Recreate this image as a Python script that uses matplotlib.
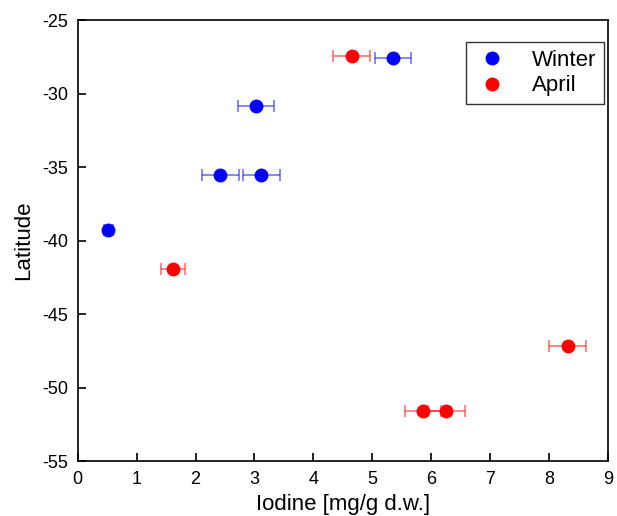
import matplotlib
matplotlib.use("Agg")
import matplotlib.pyplot as plt

plt.rcParams['font.family'] = ['Liberation Sans', 'DejaVu Sans']
plt.rcParams['axes.unicode_minus'] = False

winter_x = [5.35, 3.03, 2.42, 3.12, 0.52]
winter_y = [-27.55, -30.85, -35.55, -35.55, -39.3]
winter_err = [0.31, 0.31, 0.31, 0.31, 0.08]

april_x = [4.65, 1.62, 8.32, 5.86, 6.26]
april_y = [-27.45, -41.95, -47.15, -51.55, -51.55]
april_err = [0.31, 0.2, 0.31, 0.31, 0.31]

fig = plt.figure(figsize=(6.17, 5.16), dpi=100)
ax = fig.add_axes([0.126, 0.106, 0.859, 0.855])

for xs, ys, es, c, lab in [(winter_x, winter_y, winter_err, 'blue', 'Winter'),
                           (april_x, april_y, april_err, 'red', 'April')]:
    ax.errorbar(xs, ys, xerr=es, fmt='none', ecolor=c, alpha=0.55, capsize=4,
                elinewidth=1.2, capthick=1.2)
    ax.plot(xs, ys, 'o', color=c, markersize=9, label=lab, linestyle='none')

ax.set_xlim(0, 9)
ax.set_ylim(-55, -25)
ax.set_xticks(range(0, 10))
ax.set_yticks(range(-55, -24, 5))
ax.tick_params(direction='in', length=6, width=1.2, labelsize=13, pad=7,
               top=False, right=False)
for s in ax.spines.values():
    s.set_linewidth(1.2)
ax.set_xlabel('Iodine [mg/g d.w.]', fontsize=16, labelpad=4)
ax.set_ylabel('Latitude', fontsize=16, labelpad=6)
leg = ax.legend(loc='upper right', fontsize=16, frameon=True, fancybox=False,
                edgecolor='black', borderaxespad=0, handletextpad=1.0,
                handlelength=1.6, borderpad=0.35, labelspacing=0.2,
                bbox_to_anchor=(0.9925, 0.950))
leg.get_frame().set_linewidth(1.0)

fig.savefig('out.png', dpi=100)
